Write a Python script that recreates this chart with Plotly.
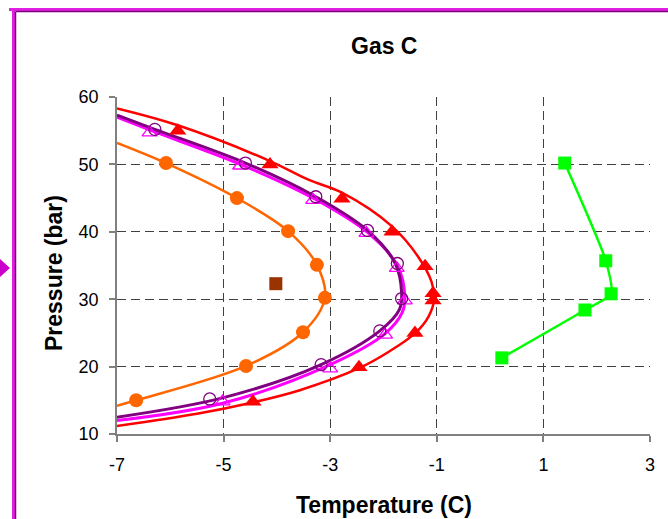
import plotly.graph_objects as go

# ---- data ----
x_ticks = [-7, -5, -3, -1, 1, 3]
y_ticks = [10, 20, 30, 40, 50, 60]

red_env_T = [-7.0, -5.86, -4.13, -3.4, -2.78, -1.84, -1.35, -1.1, -1.05, -1.15, -1.40, -1.90, -2.45, -3.57, -4.5, -5.5, -7.0]
red_env_P = [58.3, 55.8, 50.5, 47.7, 45.8, 40.8, 36.3, 32.6, 30.0, 27.5, 25.0, 22.2, 19.8, 16.5, 14.6, 13.0, 11.2]

purple_env_T = [-7.0, -6.29, -4.59, -3.27, -2.30, -1.78, -1.66, -1.70, -2.07, -3.17, -5.0, -7.0]
purple_env_P = [57.3, 55.2, 50.2, 45.2, 40.2, 35.3, 31.0, 28.5, 25.3, 20.3, 15.4, 12.5]

magenta_env_T = [-7.0, -6.35, -4.65, -3.3, -2.3, -1.74, -1.60, -1.65, -1.97, -3.0, -5.0, -7.0]
magenta_env_P = [57.0, 55.0, 49.9, 44.9, 39.9, 35.0, 30.2, 28.0, 24.9, 20.3, 14.6, 12.0]

orange_env_T = [-7.0, -6.08, -4.75, -3.79, -3.25, -3.10, -3.51, -4.58, -6.64, -7.0]
orange_env_P = [53.2, 50.2, 45.0, 40.1, 35.1, 30.2, 25.1, 20.1, 15.0, 14.2]

red_pts_T = [-5.86, -4.13, -2.78, -1.84, -1.22, -1.07, -1.07, -1.41, -2.46, -4.45]
red_pts_P = [55.0, 50.0, 44.9, 40.0, 34.9, 30.9, 29.8, 25.0, 19.9, 14.8]

purple_pts_T = [-6.29, -4.59, -3.27, -2.30, -1.74, -1.66, -2.07, -3.17, -5.26]
purple_pts_P = [55.2, 50.2, 45.2, 40.2, 35.3, 30.1, 25.3, 20.3, 15.2]

magenta_pts_T = [-6.39, -4.69, -3.32, -2.32, -1.75, -1.60, -1.97, -3.00, -5.02]
magenta_pts_P = [54.7, 49.8, 44.7, 39.8, 34.6, 29.8, 24.7, 19.7, 14.8]

orange_pts_T = [-6.08, -4.75, -3.79, -3.25, -3.10, -3.51, -4.58, -6.64]
orange_pts_P = [50.2, 45.0, 40.1, 35.1, 30.2, 25.1, 20.1, 15.0]

brown_T = [-4.02]
brown_P = [32.3]

green_T = [1.40, 2.17, 2.27, 1.78, 0.22]
green_P = [50.2, 35.7, 30.8, 28.4, 21.3]

RED = "#FF0000"
PURPLE = "#800080"
MAGENTA = "#FF00FF"
ORANGE = "#FF6600"
GREEN = "#00FF00"
BROWN = "#993300"

fig = go.Figure()

def env(T, P, color, width):
    fig.add_trace(go.Scatter(x=T, y=P, mode="lines", line=dict(color=color, width=width, shape="spline"),
                             hoverinfo="skip", showlegend=False))

env(magenta_env_T, magenta_env_P, MAGENTA, 3)
env(purple_env_T, purple_env_P, PURPLE, 3)
env(red_env_T, red_env_P, RED, 2.5)
env(orange_env_T, orange_env_P, ORANGE, 2.5)

fig.add_trace(go.Scatter(x=green_T, y=green_P, mode="lines+markers",
                         line=dict(color=GREEN, width=2.5, shape="spline", smoothing=0.6),
                         marker=dict(symbol="square", size=13, color=GREEN), showlegend=False))
fig.add_trace(go.Scatter(x=red_pts_T, y=red_pts_P, mode="markers",
                         marker=dict(symbol="triangle-up", size=15, color=RED), showlegend=False))
fig.add_trace(go.Scatter(x=orange_pts_T, y=orange_pts_P, mode="markers",
                         marker=dict(symbol="circle", size=14, color=ORANGE), showlegend=False))
fig.add_trace(go.Scatter(x=magenta_pts_T, y=magenta_pts_P, mode="markers",
                         marker=dict(symbol="triangle-up-open", size=13, color=MAGENTA, line=dict(width=1.3)),
                         showlegend=False))
fig.add_trace(go.Scatter(x=purple_pts_T, y=purple_pts_P, mode="markers",
                         marker=dict(symbol="circle-open", size=12, color=PURPLE, line=dict(width=1.3)),
                         showlegend=False))
fig.add_trace(go.Scatter(x=brown_T, y=brown_P, mode="markers",
                         marker=dict(symbol="square", size=13, color=BROWN), showlegend=False))

# ---- layout geometry ----
W, H = 668, 519
L, R, T, B = 117, 650, 97, 434

def px(xp):
    return (xp - L) / (R - L)

def py(yp):
    return (B - yp) / (B - T)

font_family = "Liberation Sans, Arial, sans-serif"
grid_col = "#404040"

fig.update_layout(
    width=W, height=H,
    margin=dict(l=L, r=W - R, t=T, b=H - B),
    paper_bgcolor="white", plot_bgcolor="white",
    font=dict(family=font_family, color="black"),
    showlegend=False,
    xaxis=dict(range=[-7, 3], tickvals=x_ticks, ticktext=[str(v) for v in x_ticks],
               showgrid=True, gridcolor=grid_col, griddash="9px,5px", gridwidth=1,
               zeroline=False, showline=True, linecolor="#808080", linewidth=1.5,
               ticks="outside", ticklen=6, tickcolor="#808080", tickwidth=1.5,
               tickfont=dict(size=18, family=font_family), ticklabelstandoff=8),
    yaxis=dict(range=[10, 60], tickvals=y_ticks, ticktext=[str(v) for v in y_ticks],
               showgrid=True, gridcolor=grid_col, griddash="9px,5px", gridwidth=1,
               zeroline=False, showline=True, linecolor="#808080", linewidth=1.5,
               ticks="outside", ticklen=6, tickcolor="#808080", tickwidth=1.5,
               tickfont=dict(size=18, family=font_family), ticklabelstandoff=7),
)

fig.add_annotation(text="<b>Gas C</b>", xref="paper", yref="paper", x=px(384), y=py(46),
                   showarrow=False, font=dict(size=23, family=font_family), xanchor="center", yanchor="middle")
fig.add_annotation(text="<b>Temperature (C)</b>", xref="paper", yref="paper", x=px(384), y=py(505),
                   showarrow=False, font=dict(size=23, family=font_family), xanchor="center", yanchor="middle")
fig.add_annotation(text="<b>Pressure (bar)</b>", xref="paper", yref="paper", x=px(54), y=py(273),
                   showarrow=False, textangle=-90, font=dict(size=23, family=font_family),
                   xanchor="center", yanchor="middle")

# ---- chart-area frame and side arrow ----
shapes = [
    dict(type="line", xref="paper", yref="paper", x0=px(13.5), x1=px(13.5), y0=py(9), y1=py(530),
         line=dict(color="#E020E0", width=3)),
    dict(type="line", xref="paper", yref="paper", x0=px(9), x1=px(680), y0=py(9.5), y1=py(9.5),
         line=dict(color="#E020E0", width=3)),
    dict(type="line", xref="paper", yref="paper", x0=px(15.5), x1=px(15.5), y0=py(11.5), y1=py(530),
         line=dict(color=PURPLE, width=1.5)),
    dict(type="line", xref="paper", yref="paper", x0=px(15.5), x1=px(680), y0=py(11.5), y1=py(11.5),
         line=dict(color=PURPLE, width=1.5)),
    dict(type="path", xref="paper", yref="paper",
         path=f"M {px(0)} {py(259)} L {px(10)} {py(268)} L {px(0)} {py(277)} Z",
         fillcolor="#CC00CC", line=dict(width=0)),
]
fig.update_layout(shapes=shapes)

fig.write_html("out.html")
